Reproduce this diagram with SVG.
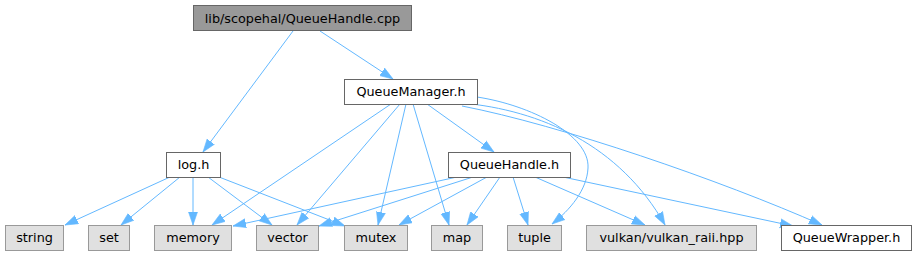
<svg xmlns="http://www.w3.org/2000/svg" width="917" height="256" viewBox="0 0 917 256">
<style>
  .box rect{stroke-width:1}
  .root rect{fill:#999999;stroke:#666666}
  .hdr rect{fill:#ffffff;stroke:#666666}
  .sys rect{fill:#e0e0e0;stroke:#999999}
  text{font-family:"DejaVu Sans","Liberation Sans",sans-serif;font-size:12.8px;fill:#000000;text-anchor:middle}
  #edges path{fill:none;stroke:#63b8ff;stroke-width:1;marker-end:url(#arr)}
</style>
<defs>
  <marker id="arr" markerUnits="userSpaceOnUse" markerWidth="14" markerHeight="11" refX="13" refY="5" orient="auto">
    <path d="M0,0.5 L13,5 L0,9.5 z" fill="#63b8ff" stroke="#63b8ff" stroke-width="0.6"/>
  </marker>
</defs>
<rect width="917" height="256" fill="#ffffff"/>
<g id="edges">
  <path d="M293,31 L203,152"/>
  <path d="M320,31 L393,79"/>
  <path d="M391,104 L212,225"/>
  <path d="M400,104 L297,225"/>
  <path d="M406,104 L378,225"/>
  <path d="M413,104 L449,225"/>
  <path d="M427,104 L494,152"/>
  <path d="M477,97 C530,105 590,135 588,168 C587,190 570,210 552,224"/>
  <path d="M462,103 C540,110 620,145 665,225"/>
  <path d="M462,106 C560,125 720,180 822,225"/>
  <path d="M170,177 L65,225"/>
  <path d="M180,177 L121,225"/>
  <path d="M193,177 L193,225"/>
  <path d="M208,177 L272,225"/>
  <path d="M219,177 L345,226"/>
  <path d="M457,177 L233,226"/>
  <path d="M473,177 L319,226"/>
  <path d="M487,177 L399,225"/>
  <path d="M500,177 L467,225"/>
  <path d="M513,177 L528,225"/>
  <path d="M535,177 L645,225"/>
  <path d="M563,177 L793,226"/>
</g>
<g id="node_root" class="box root"><rect x="193.5" y="5.5" width="218" height="25"/><text x="302.5" y="22.5">lib/scopehal/QueueHandle.cpp</text></g>
<g id="node_QueueManager" class="box hdr"><rect x="344.5" y="79.5" width="133" height="25"/><text x="411" y="96">QueueManager.h</text></g>
<g id="node_log" class="box hdr"><rect x="166.5" y="152.5" width="54" height="25"/><text x="193.5" y="169">log.h</text></g>
<g id="node_QueueHandle" class="box hdr"><rect x="448.5" y="152.5" width="122" height="25"/><text x="509.5" y="169">QueueHandle.h</text></g>
<g id="node_string" class="box sys"><rect x="5.5" y="225.5" width="58" height="25"/><text x="34.5" y="242">string</text></g>
<g id="node_set" class="box sys"><rect x="88.5" y="225.5" width="41" height="25"/><text x="109" y="242">set</text></g>
<g id="node_memory" class="box sys"><rect x="154.5" y="225.5" width="77" height="25"/><text x="193" y="242">memory</text></g>
<g id="node_vector" class="box sys"><rect x="256.5" y="225.5" width="62" height="25"/><text x="287.5" y="242">vector</text></g>
<g id="node_mutex" class="box sys"><rect x="344.5" y="225.5" width="63" height="25"/><text x="376" y="242">mutex</text></g>
<g id="node_map" class="box sys"><rect x="431.5" y="225.5" width="51" height="25"/><text x="457" y="242">map</text></g>
<g id="node_tuple" class="box sys"><rect x="507.5" y="225.5" width="54" height="25"/><text x="534.5" y="242">tuple</text></g>
<g id="node_vulkan" class="box sys"><rect x="586.5" y="225.5" width="170" height="25"/><text x="671.5" y="242">vulkan/vulkan_raii.hpp</text></g>
<g id="node_QueueWrapper" class="box hdr"><rect x="781.5" y="225.5" width="130" height="25"/><text x="846.5" y="242">QueueWrapper.h</text></g>
</svg>
